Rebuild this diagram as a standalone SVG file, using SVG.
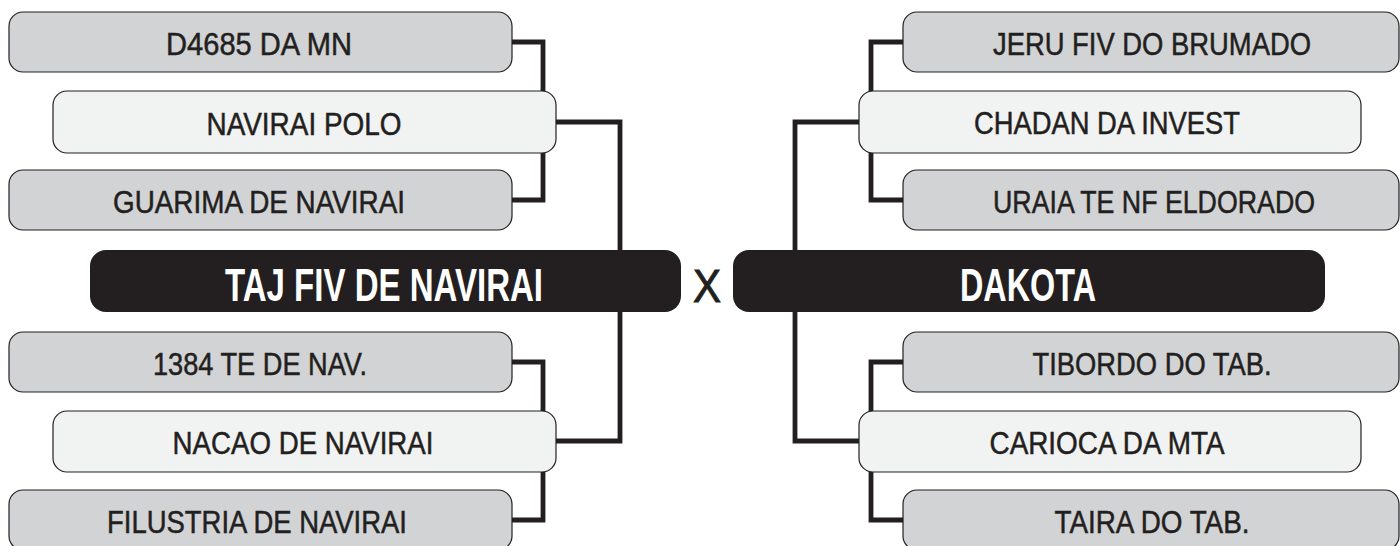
<svg xmlns="http://www.w3.org/2000/svg" width="1400" height="546" viewBox="0 0 1400 546">
<style>
.gray{fill:#d1d3d4;stroke:#231f20;stroke-width:1.2}
.light{fill:#f1f2f2;stroke:#231f20;stroke-width:1.2}
.dark{fill:#231f20}
.lbl{font-family:"Liberation Sans",Arial,sans-serif;font-size:31px;fill:#231f20;stroke:#231f20;stroke-width:0.5;text-anchor:middle}
.big{font-family:"Liberation Sans",Arial,sans-serif;font-weight:bold;font-size:46px;fill:#ffffff;text-anchor:middle}
.x{font-family:"Liberation Sans",Arial,sans-serif;font-size:47px;fill:#231f20;stroke:#231f20;stroke-width:1;text-anchor:middle}
.con{fill:none;stroke:#231f20;stroke-width:4.8}
</style>
<rect width="1400" height="546" fill="#ffffff"/>
<g id="connectors">
<path class="con" d="M512,42 H543 V200 H512"/>
<path class="con" d="M556,122 H620 V441 H556"/>
<path class="con" d="M512,362 H543 V520 H512"/>
<path class="con" d="M903,42 H871 V200 H903"/>
<path class="con" d="M859,122 H795 V441 H859"/>
<path class="con" d="M903,362 H871 V520 H903"/>
</g>
<g id="n1"><rect class="gray" x="9" y="12" width="503" height="60" rx="14"/><text class="lbl" x="259" y="55" textLength="186" lengthAdjust="spacingAndGlyphs">D4685 DA MN</text></g>
<g id="n2"><rect class="light" x="53" y="91" width="503" height="62" rx="14"/><text class="lbl" x="304" y="135" textLength="195" lengthAdjust="spacingAndGlyphs">NAVIRAI POLO</text></g>
<g id="n3"><rect class="gray" x="9" y="170" width="503" height="60" rx="14"/><text class="lbl" x="259" y="213" textLength="292" lengthAdjust="spacingAndGlyphs">GUARIMA DE NAVIRAI</text></g>
<g id="n4"><rect class="dark" x="90" y="250" width="591" height="62" rx="16"/><text class="big" x="384" y="301" textLength="318" lengthAdjust="spacingAndGlyphs">TAJ FIV DE NAVIRAI</text></g>
<g id="vs"><text class="x" x="707" y="302" textLength="28" lengthAdjust="spacingAndGlyphs">X</text></g>
<g id="n5"><rect class="dark" x="733" y="250" width="592" height="62" rx="16"/><text class="big" x="1028" y="301" textLength="136" lengthAdjust="spacingAndGlyphs">DAKOTA</text></g>
<g id="n6"><rect class="gray" x="9" y="332" width="503" height="60" rx="14"/><text class="lbl" x="260" y="375" textLength="214" lengthAdjust="spacingAndGlyphs">1384 TE DE NAV.</text></g>
<g id="n7"><rect class="light" x="53" y="411" width="503" height="61" rx="14"/><text class="lbl" x="303" y="454" textLength="261" lengthAdjust="spacingAndGlyphs">NACAO DE NAVIRAI</text></g>
<g id="n8"><rect class="gray" x="9" y="490" width="503" height="60" rx="14"/><text class="lbl" x="257" y="533" textLength="300" lengthAdjust="spacingAndGlyphs">FILUSTRIA DE NAVIRAI</text></g>
<g id="n9"><rect class="gray" x="903" y="12" width="496" height="60" rx="14"/><text class="lbl" x="1152" y="55" textLength="318" lengthAdjust="spacingAndGlyphs">JERU FIV DO BRUMADO</text></g>
<g id="n10"><rect class="light" x="859" y="91" width="502" height="62" rx="14"/><text class="lbl" x="1107" y="134" textLength="266" lengthAdjust="spacingAndGlyphs">CHADAN DA INVEST</text></g>
<g id="n11"><rect class="gray" x="903" y="170" width="496" height="60" rx="14"/><text class="lbl" x="1154" y="213" textLength="322" lengthAdjust="spacingAndGlyphs">URAIA TE NF ELDORADO</text></g>
<g id="n12"><rect class="gray" x="903" y="332" width="496" height="60" rx="14"/><text class="lbl" x="1152" y="375" textLength="239" lengthAdjust="spacingAndGlyphs">TIBORDO DO TAB.</text></g>
<g id="n13"><rect class="light" x="859" y="411" width="502" height="61" rx="14"/><text class="lbl" x="1107" y="454" textLength="235" lengthAdjust="spacingAndGlyphs">CARIOCA DA MTA</text></g>
<g id="n14"><rect class="gray" x="903" y="490" width="496" height="60" rx="14"/><text class="lbl" x="1152" y="533" textLength="195" lengthAdjust="spacingAndGlyphs">TAIRA DO TAB.</text></g>
</svg>
